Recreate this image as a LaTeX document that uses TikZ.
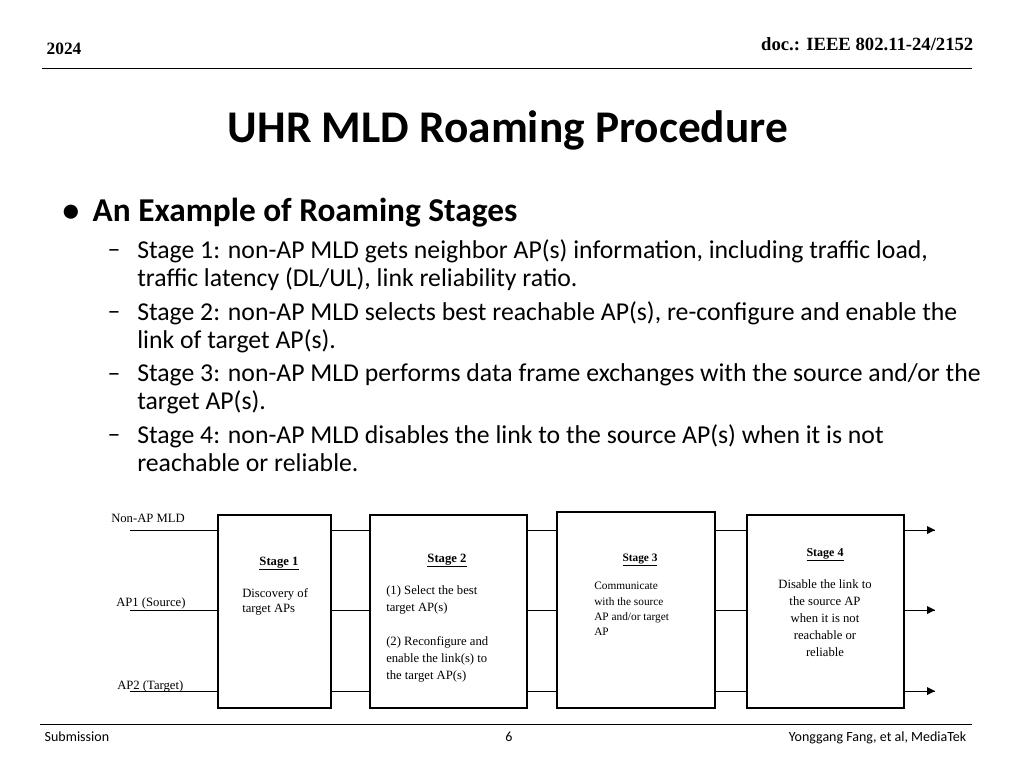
\documentclass[tikz,border=0pt]{standalone}
\usepackage{fontspec}
\setmainfont{Liberation Serif}
\newfontfamily\calfont{Carlito}
\begin{document}
\begin{tikzpicture}[x=0.75pt,y=-0.75pt,
  stg/.style={draw,thick,fill=white},
  lbl/.style={font=\fontsize{9.5}{11.5}\selectfont,align=left,inner sep=0}]
\useasboundingbox (0,0) rectangle (1024,768);
\node[anchor=base west,font=\bfseries\fontsize{13}{15}\selectfont] (yr) at (42,54) {2024};
\node[anchor=base east,font=\bfseries\fontsize{14}{16}\selectfont] (doc) at (978,50) {doc.: IEEE 802.11-24/2152};
\draw (42,68) -- (972,68);
\node[font=\calfont\bfseries\fontsize{34}{40}\selectfont] (title) at (508,130) {UHR MLD Roaming Procedure};
\node[anchor=base west,font=\calfont\bfseries\fontsize{25}{30}\selectfont] (b) at (58,221) {\textbullet\hspace{10pt}An Example of Roaming Stages};
\foreach \y/\t in {257/{Stage 1: non-AP MLD gets neighbor AP(s) information, including traffic load,\\traffic latency (DL/UL), link reliability ratio.},
  319/{Stage 2: non-AP MLD selects best reachable AP(s), re-configure and enable the\\link of target AP(s).},
  381/{Stage 3: non-AP MLD performs data frame exchanges with the source and/or the\\target AP(s).},
  442/{Stage 4: non-AP MLD disables the link to the source AP(s) when it is not\\reachable or reliable.}}{
  \node[anchor=base west,font=\calfont\fontsize{19.3}{21}\selectfont] at (103,\y) {–};
  \node[anchor=north west,font=\calfont\fontsize{19.3}{21}\selectfont,align=left,inner sep=0] at (137,\y-18) {\t};
}
% lines
\coordinate (s0) at (130,530); \coordinate (s1) at (130,610); \coordinate (s2) at (130,691);
\coordinate (e0) at (935,530); \coordinate (e1) at (935,610); \coordinate (e2) at (935,691);
\draw (s0) -- (e0); \draw (s1) -- (e1); \draw (s2) -- (e2);
\fill (e0) -- ++(-8,-4) -- ++(0,8) -- cycle;
\fill (e1) -- ++(-8,-4) -- ++(0,8) -- cycle;
\fill (e2) -- ++(-8,-4) -- ++(0,8) -- cycle;
\draw[stg] (218,515) rectangle (331,708);
\draw[stg] (370,515) rectangle (527,708);
\draw[stg] (557,512) rectangle (715,708);
\draw[stg] (747,515) rectangle (904,708);
\node[lbl,anchor=base west] (n0) at (111,522) {Non-AP MLD};
\node[lbl,anchor=base west] (n1) at (116,606) {AP1 (Source)};
\node[lbl,anchor=base west] (n2) at (117,689) {AP2 (Target)};
\node[lbl,anchor=base,font=\bfseries\fontsize{9.5}{11}\selectfont] at (279,565) {\underline{Stage 1}};
\node[lbl,anchor=north west] at (242,588) {Discovery of\\target APs};
\node[lbl,anchor=base,font=\bfseries\fontsize{9.5}{11}\selectfont] at (447,562) {\underline{Stage 2}};
\node[lbl,anchor=north west,font=\fontsize{9.5}{12.75}\selectfont] at (386,585) {(1) Select the best\\target AP(s)\\[12.75pt](2) Reconfigure and\\enable the link(s) to\\the target AP(s)};
\node[lbl,anchor=base,font=\bfseries\fontsize{8.5}{10}\selectfont] at (640,561) {\underline{Stage 3}};
\node[lbl,anchor=north west,font=\fontsize{8.5}{11.5}\selectfont] at (594,582) {Communicate\\with the source\\AP and/or target\\AP};
\node[lbl,anchor=base,font=\bfseries\fontsize{9}{11}\selectfont] at (825,556) {\underline{Stage 4}};
\node[lbl,anchor=north,align=center,font=\fontsize{9.5}{12.75}\selectfont] at (825,579) {Disable the link to\\the source AP\\when it is not\\reachable or\\reliable};
\draw (40,724) -- (972,724);
\node[anchor=base west,font=\calfont\fontsize{10.5}{12}\selectfont] (f1) at (40,741) {Submission};
\node[anchor=base,font=\calfont\fontsize{10.5}{12}\selectfont] (f2) at (509,741) {6};
\node[anchor=base east,font=\calfont\fontsize{10.5}{12}\selectfont] (f3) at (971,741) {Yonggang Fang, et al, MediaTek};
\end{tikzpicture}
\end{document}
